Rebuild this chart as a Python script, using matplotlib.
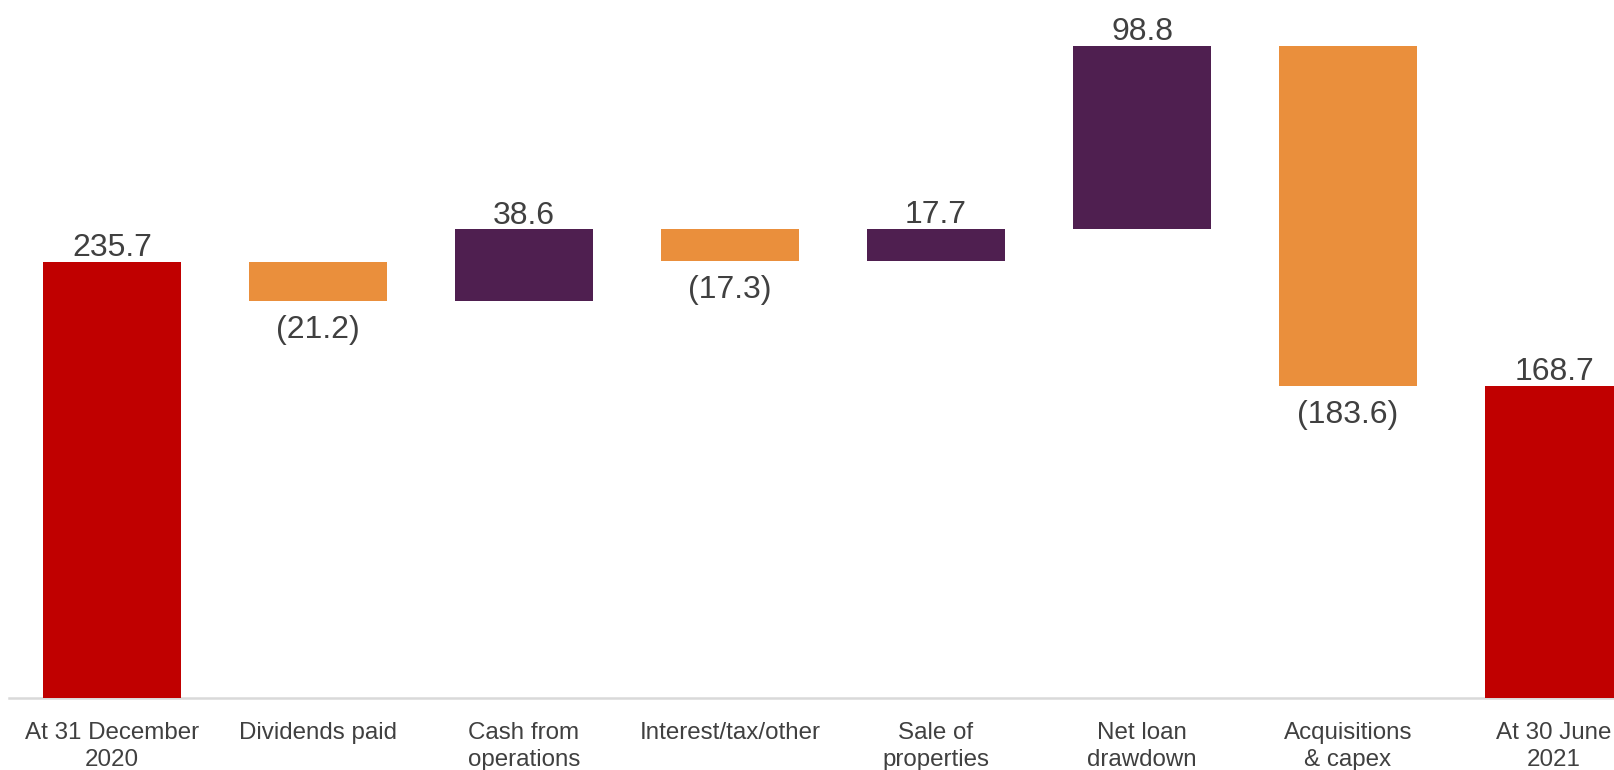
import matplotlib.pyplot as plt
import numpy as np

plt.rcParams['font.family'] = ['Liberation Sans', 'DejaVu Sans']

# waterfall data
categories = ["At 31 December\n2020", "Dividends paid", "Cash from\noperations",
              "Interest/tax/other", "Sale of\nproperties", "Net loan\ndrawdown",
              "Acquisitions\n& capex", "At 30 June\n2021"]
changes = [235.7, -21.2, 38.6, -17.3, 17.7, 98.8, -183.6, 168.7]
kinds = ["total", "delta", "delta", "delta", "delta", "delta", "delta", "total"]

RED = "#C00000"
ORANGE = "#EA8F3C"
PURPLE = "#4F1F50"
TEXT = "#404040"

# work out bottoms/heights for each bar
bottoms, heights, colors = [], [], []
running = 0.0
for v, k in zip(changes, kinds):
    if k == "total":
        bottoms.append(0)
        heights.append(v)
        colors.append(RED)
        running = v
    else:
        if v >= 0:
            bottoms.append(running)
            colors.append(PURPLE)
        else:
            bottoms.append(running + v)
            colors.append(ORANGE)
        heights.append(abs(v))
        running += v

fig = plt.figure(figsize=(16.14, 7.7), dpi=100)
# axes runs a bit past the right edge, so the last bar gets clipped
ax = fig.add_axes([9 / 1614, 72 / 770, 8 * 206 / 1614, 698 / 770])

x = np.arange(len(categories))
ax.bar(x, heights, bottom=bottoms, width=0.667, color=colors, zorder=2)

for xi, v, b, h in zip(x, changes, bottoms, heights):
    if v >= 0:
        ax.annotate(f"{v:.1f}", (xi, b + h), xytext=(0, -1), textcoords="offset points",
                    ha="center", va="bottom", fontsize=23, color=TEXT)
    else:
        ax.annotate(f"({abs(v):.1f})", (xi, b), xytext=(0, -10), textcoords="offset points",
                    ha="center", va="top", fontsize=23, color=TEXT)

ax.set_xlim(-0.5, 7.5)
ax.set_ylim(0, 377)
ax.set_xticks(x)
ax.set_xticklabels(categories, fontsize=17.4, color=TEXT, linespacing=1.3)
ax.tick_params(axis="x", length=0, pad=17)
ax.set_yticks([])

for s in ["top", "right", "left"]:
    ax.spines[s].set_visible(False)
ax.spines["bottom"].set_color("#D9D9D9")
ax.spines["bottom"].set_linewidth(1.8)
ax.spines["bottom"].set_zorder(1)

fig.savefig("out.png", dpi=100)
